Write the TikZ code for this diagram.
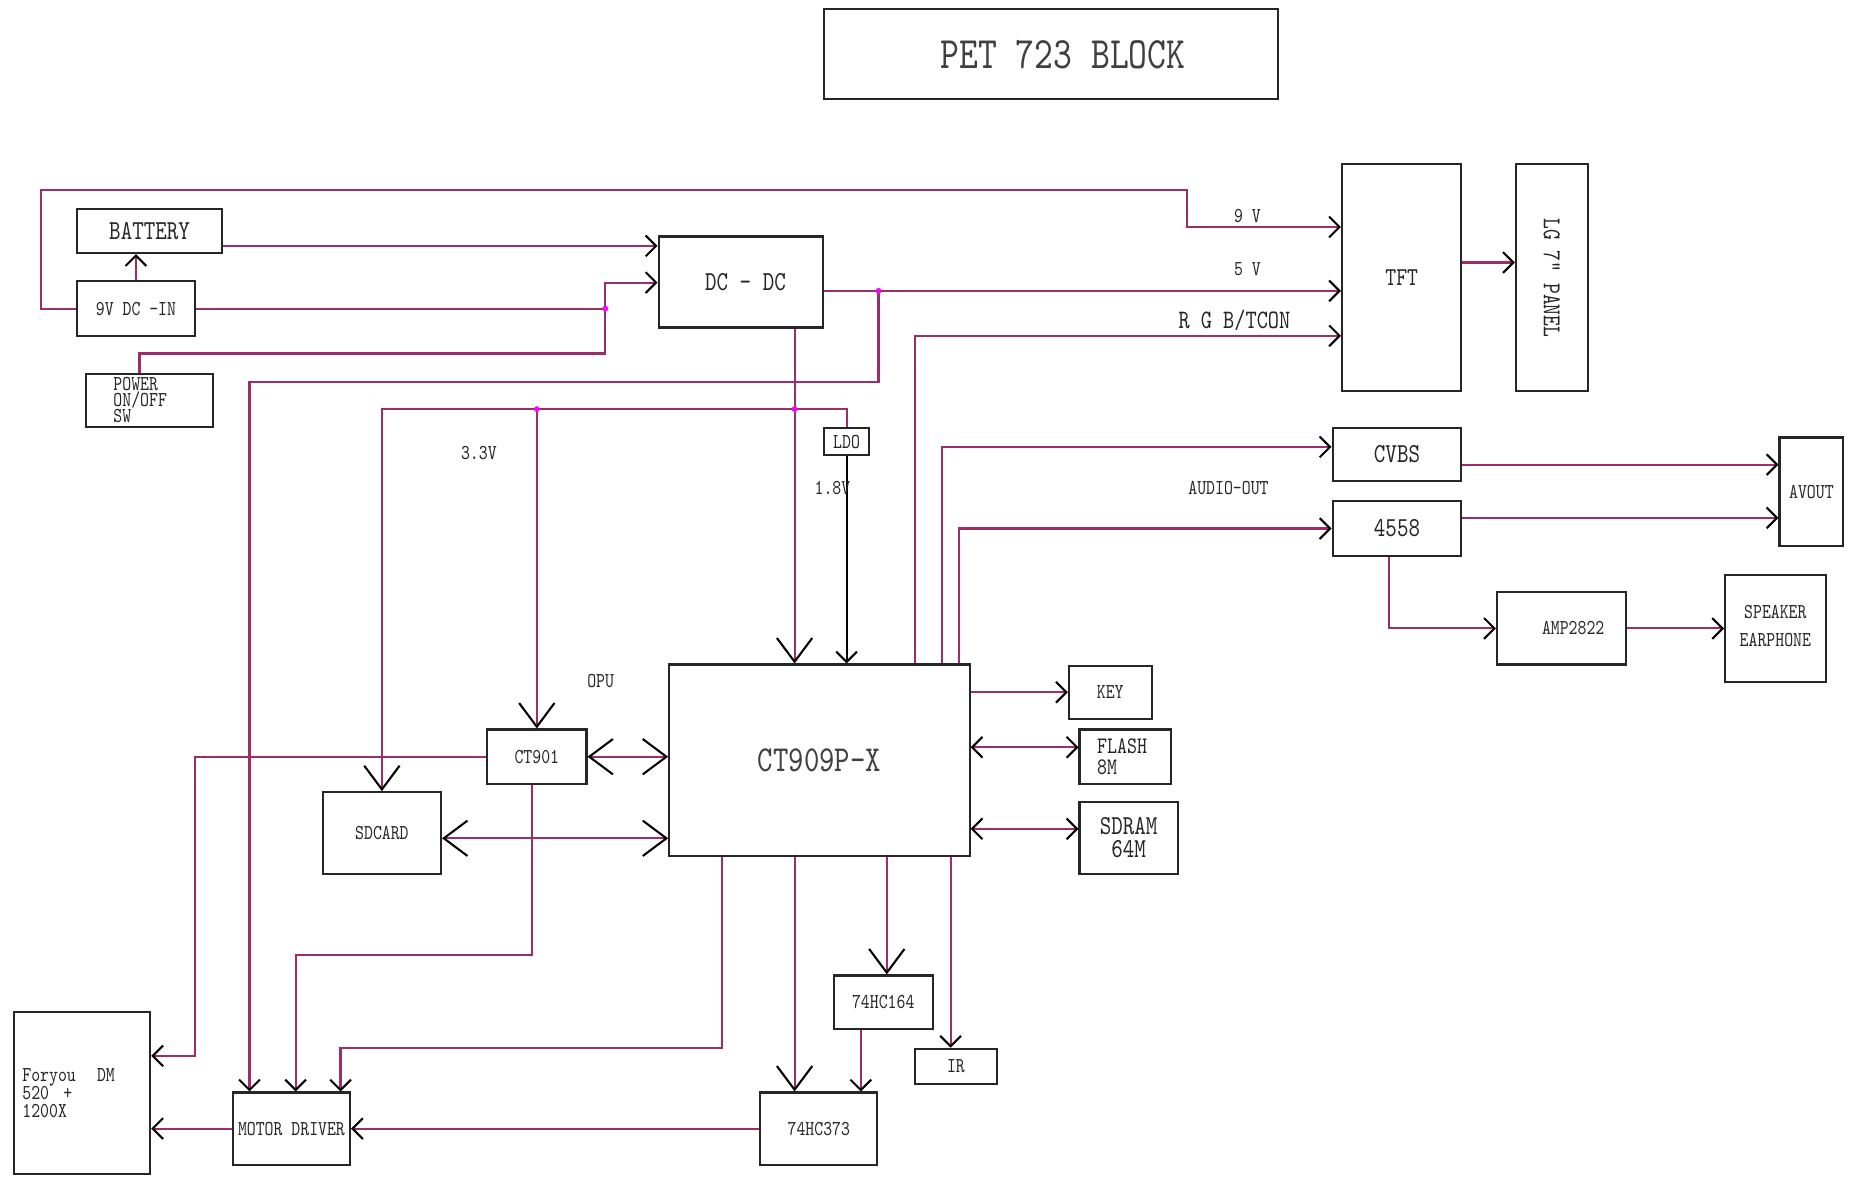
\documentclass[tikz,border=0pt]{standalone}
\usepackage{fontspec}
\newfontfamily\pcb[FakeStretch=0.8]{lmmono10-regular.otf}
\usetikzlibrary{arrows.meta}
\definecolor{wirec}{RGB}{155,45,105}
\definecolor{joint}{RGB}{255,0,255}
\tikzset{
  box/.style={draw=black!85, line width=0.5pt, inner sep=0pt, text=black!85, align=center},
  sz/.style 2 args={minimum width=#1*0.01cm, minimum height=#2*0.01cm},
  fnt/.style 2 args={font=\pcb\fontsize{#1pt}{#2pt}\selectfont},
  wire/.style={draw=wirec, line width=0.5pt},
  lbl/.style={inner sep=0pt, text=black!85, fnt={5.1}{6}},
  big/.style={-{Straight Barb[black,length=5.7pt,width=8.5pt]}},
  bigboth/.style={{Straight Barb[black,length=5.7pt,width=8.5pt]}-{Straight Barb[black,length=5.7pt,width=8.5pt]}},
}

\begin{document}
\begin{tikzpicture}[x=0.01cm, y=-0.01cm,
  >={Straight Barb[black,length=2.5pt,width=5pt]}]
  \path[fill=white, use as bounding box] (0,0) rectangle (1568,995);

  % blocks
  \node[box, sz={384}{76}, fnt={10.8}{13}, text=black!75] (title) at (889,46) {\hspace*{0.2cm}PET 723 BLOCK};
  \node[box, sz={123}{37}, fnt={6.6}{8}] (battery) at (126.5,195.5) {BATTERY};
  \node[box, sz={100}{46}, fnt={5.1}{6}] (dcin) at (115,261) {9V DC -IN};
  \node[box, sz={107}{45}, fnt={5.1}{3.9}, text width=0.61cm, align=left] (power) at (126.5,338.5) {POWER\\ON/OFF\\SW\\[-0.06cm]};
  \node[box, sz={139}{77}, fnt={6.6}{8}] (dcdc) at (626.5,238.5) {\hspace*{0.08cm}DC - DC};
  \node[box, sz={101}{192}, fnt={6.2}{7}] (tft) at (1185.5,235) {TFT};
  \node[box, sz={61}{192}, fnt={6.2}{7}] (panel) at (1312.5,235) {\rotatebox{-90}{LG 7" PANEL}};
  \node[box, sz={38}{23}, fnt={5.1}{6}] (ldo) at (716,373.5) {LDO};
  \node[box, sz={109}{45}, fnt={6.6}{8}] (cvbs) at (1181.5,384.5) {CVBS};
  \node[box, sz={109}{46}, fnt={6.6}{8}] (opamp) at (1181.5,447) {4558};
  \node[box, sz={54}{92}, fnt={5.1}{6}] (avout) at (1532,416) {AVOUT};
  \node[box, sz={109}{61}, fnt={5.1}{6}] (amp) at (1320.5,531.5) {\hspace*{0.2cm}AMP2822};
  \node[box, sz={85}{91}, fnt={5.1}{6.8}] (spk) at (1501.5,531.5) {SPEAKER\\EARPHONE\\[-0.2cm]};
  \node[box, sz={254}{162}, fnt={8.8}{10}, text=black!75] (cpu) at (693,643) {CT909P-X};
  \node[box, sz={70}{45}, fnt={5.1}{6}] (key) at (939,585.5) {KEY};
  \node[box, sz={77}{46}, fnt={5.7}{4.9}, text width=0.47cm, align=left] (flash) at (951.5,640) {FLASH\\8M};
  \node[box, sz={83}{61}, fnt={6.6}{5.6}] (sdram) at (954.5,708.5) {SDRAM\\64M};
  \node[box, sz={84}{46}, fnt={5.1}{6}] (ct901) at (454,640) {CT901};
  \node[box, sz={100}{69}, fnt={5.1}{6}] (sd) at (323,704.5) {SDCARD};
  \node[box, sz={84}{45}, fnt={5.1}{6}] (hc164) at (747,847.5) {74HC164};
  \node[box, sz={69}{30}, fnt={5.1}{6}] (ir) at (808.5,902) {IR};
  \node[box, sz={99}{61}, fnt={5.1}{6}] (hc373) at (692.5,954.5) {74HC373};
  \node[box, sz={99}{61}, fnt={5.1}{6}] (motor) at (246.5,954.5) {MOTOR DRIVER};
  \node[box, sz={115}{137}, fnt={5.1}{4.4}, text width=1.01cm, align=left] (dvd) at (69.5,924.5) {Foryou~~~DM\\520~~+\\1200X\\[-0.06cm]};

  % junctions
  \coordinate (j1) at (512,261);
  \coordinate (j2) at (743,246);
  \coordinate (j3) at (672,346);
  \coordinate (j4) at (454,346);

  % power
  \draw[wire,->] (dcin.north) -- (dcin.north |- battery.south);
  \draw[wire,->] (battery.east |- 0,208) -- (dcdc.west |- 0,208);
  \draw[wire,->] (dcin.east) -- (j1) |- (dcdc.west |- 0,239);
  \draw[wire] (118,0 |- power.north) |- (j1 |- 0,299) -- (j1);
  \draw[wire,->] (dcin.west) -| (35,161) -| (1004,192) -- (tft.west |- 0,192);
  \draw[wire,->] (dcdc.east |- j2) -- (tft.west |- j2);
  \draw[wire,->] (j2) |- (211,323) -- (211,0 |- motor.north);
  \draw[wire,big] (j3 |- dcdc.south) -- (j3 |- cpu.north);
  \draw[wire] (j3) -| (ldo.north);
  \draw[wire,big] (j3) -| (sd.north);
  \draw[wire,big] (j4) -- (ct901.north);
  \draw[line width=0.5pt,->] (ldo.south) -- (ldo.south |- cpu.north);
  \foreach \j in {j1,j2,j3,j4}
    \fill[joint] (\j) circle (0.7pt);

  % video and audio
  \draw[wire,->] (774,0 |- cpu.north) |- (tft.west |- 0,284);
  \draw[wire,->] (797,0 |- cpu.north) |- (cvbs.west |- 0,378);
  \draw[wire,->] (811,0 |- cpu.north) |- (opamp.west);
  \draw[wire,->] (tft.east |- 0,222) -- (panel.west |- 0,222);
  \draw[wire,->] (cvbs.east |- 0,393) -- (avout.west |- 0,393);
  \draw[wire,->] (opamp.east |- 0,438) -- (avout.west |- 0,438);
  \draw[wire,->] (1175,0 |- opamp.south) |- (amp.west);
  \draw[wire,->] (amp.east) -- (spk.west |- amp.east);

  % cpu bus
  \draw[wire,->] (cpu.east |- key.west) -- (key.west);
  \draw[wire,<->] (cpu.east |- 0,632) -- (flash.west |- 0,632);
  \draw[wire,<->] (cpu.east |- 0,701) -- (sdram.west |- 0,701);
  \draw[wire,bigboth] (ct901.east) -- (cpu.west |- ct901.east);
  \draw[wire,bigboth] (sd.east |- 0,709) -- (cpu.west |- 0,709);

  % loader and motor
  \draw[wire,->] (ct901.west) -| (165,893) -- (dvd.east |- 0,893);
  \draw[wire,->] (450,0 |- ct901.south) |- (250,808) -- (250,0 |- motor.north);
  \draw[wire,->] (611,0 |- cpu.south) |- (288,886) -- (288,0 |- motor.north);
  \draw[wire,big] (672,0 |- cpu.south) -- (672,0 |- hc373.north);
  \draw[wire,big] (750,0 |- cpu.south) -- (750,0 |- hc164.north);
  \draw[wire,->] (804,0 |- cpu.south) -- (804,0 |- ir.north);
  \draw[wire,->] (728,0 |- hc164.south) -- (728,0 |- hc373.north);
  \draw[wire,->] (hc373.west) -- (motor.east);
  \draw[wire,->] (motor.west) -- (dvd.east |- motor.west);

  % labels
  \node[lbl] (v9) at (1055,183) {9 V};
  \node[lbl] (v5) at (1055,228) {5 V};
  \node[lbl, fnt={6.4}{7}] (rgb) at (1044,271) {R G B/TCON};
  \node[lbl] (audio) at (1039,413) {AUDIO-OUT};
  \node[lbl] (v33) at (405,383) {3.3V};
  \node[lbl] (v18) at (704,413) {1.8V};
  \node[lbl] (opu) at (508,576) {OPU};
\end{tikzpicture}
\end{document}
